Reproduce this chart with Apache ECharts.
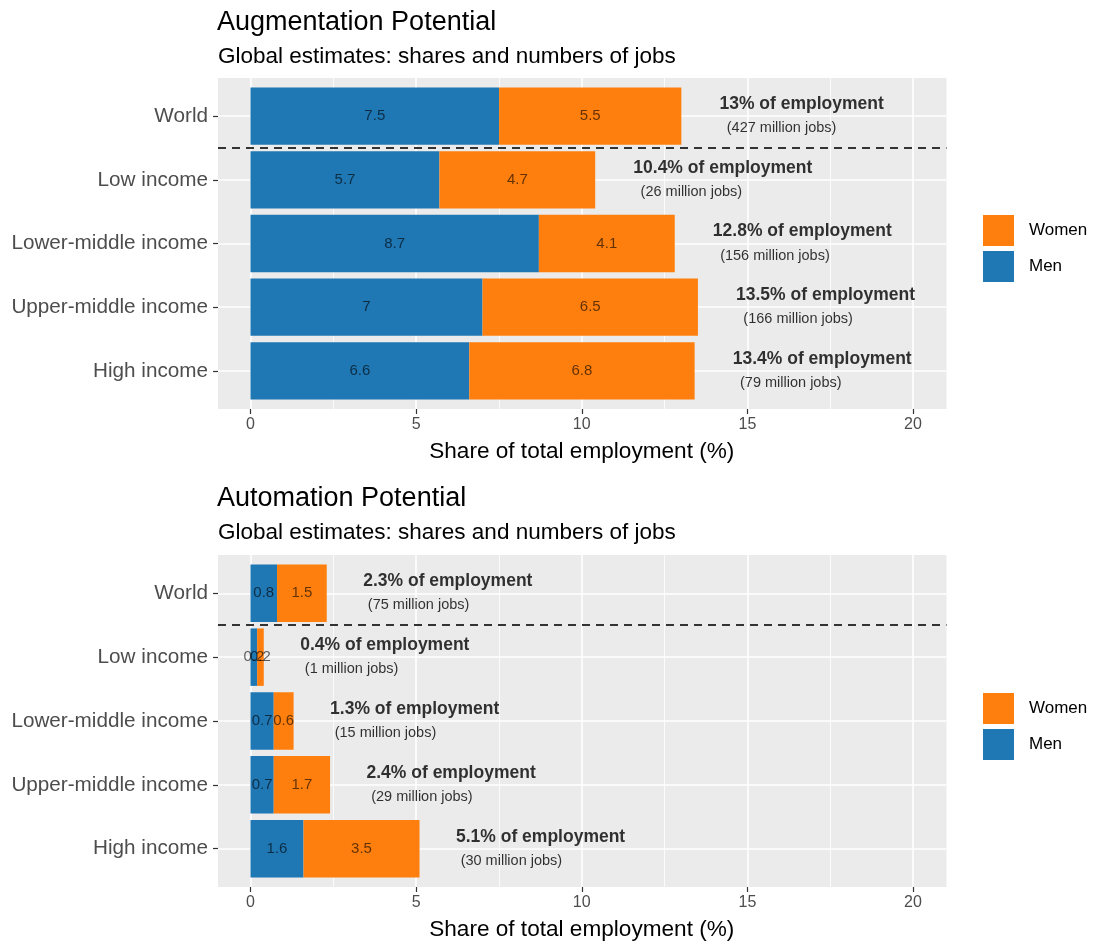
<!DOCTYPE html>
<html><head><meta charset="utf-8">
<script src="https://cdn.jsdelivr.net/npm/echarts@6/dist/echarts.min.js"></script>
<style>html,body{margin:0;padding:0;background:#fff}#c{width:1094px;height:945px}</style>
</head><body><div id="c"></div>
<script>
// ---- data ----
const categories = ['World', 'Low income', 'Lower-middle income', 'Upper-middle income', 'High income'];
const augMen   = [7.5, 5.7, 8.7, 7, 6.6];
const augWomen = [5.5, 4.7, 4.1, 6.5, 6.8];
const augTotal = [13, 10.4, 12.8, 13.5, 13.4];
const augJobs  = [427, 26, 156, 166, 79];
const autoMen   = [0.8, 0.2, 0.7, 0.7, 1.6];
const autoWomen = [1.5, 0.2, 0.6, 1.7, 3.5];
const autoTotal = [2.3, 0.4, 1.3, 2.4, 5.1];
const autoJobs  = [75, 1, 15, 29, 30];
const xTicks = [0, 5, 10, 15, 20];
const separatorAfter = 'World';
const titles = ['Augmentation Potential', 'Automation Potential'];
const subtitle = 'Global estimates: shares and numbers of jobs';
const xTitle = 'Share of total employment (%)';

// ---- style ----
const FONT = '"Liberation Sans", Arial, Helvetica, sans-serif';
const BLUE = '#1F77B4', ORANGE = '#FF7F0E';
const PANEL = '#EBEBEB', GRIDC = '#FFFFFF', AXTXT = '#4D4D4D', TICK = '#333333';
const XMIN = -0.981, XMAX = 21.0;

const chart = echarts.init(document.getElementById('c'), null, {renderer: 'canvas'});

const grid = [], xAxis = [], yAxis = [], series = [], title = [], legend = [];

function addPanel(p, layout, men, women, total, jobs, boldOff, subOff) {
  const g0 = grid.length;
  const band = layout.height / 5.2;
  // A: grey panel
  grid.push({left: 218, right: 147.5, top: layout.top, height: layout.height, show: true,
             backgroundColor: PANEL, borderWidth: 0, containLabel: false, outerBoundsMode: 'none'});
  // B: vertical grid lines + x axis
  grid.push({left: 250.5, right: 181, top: layout.top, height: layout.height, show: false,
             containLabel: false, outerBoundsMode: 'none'});
  // C: bars + categories
  grid.push({left: 218, right: 147.5, top: layout.top + 0.1 * band, height: band * 5, show: false,
             containLabel: false, outerBoundsMode: 'none'});
  const xA = xAxis.length;
  xAxis.push({gridIndex: g0, type: 'value', min: 0, max: 1, show: false});
  xAxis.push({gridIndex: g0 + 1, type: 'value', min: xTicks[0], max: xTicks[xTicks.length - 1],
    interval: xTicks[1] - xTicks[0],
    axisLine: {show: false, onZero: false},
    axisTick: {show: true, length: 5, lineStyle: {color: TICK, width: 1.2}},
    axisLabel: {show: true, color: AXTXT, fontSize: 16, fontFamily: FONT, margin: 8},
    splitLine: {show: true, lineStyle: {color: GRIDC, width: 1.6}},
    minorTick: {show: false, splitNumber: 2},
    minorSplitLine: {show: true, lineStyle: {color: GRIDC, width: 0.8}},
    name: xTitle, nameLocation: 'middle', nameGap: 31,
    nameTextStyle: {color: '#000', fontSize: 22.6, fontFamily: FONT}
  });
  xAxis.push({gridIndex: g0 + 2, type: 'value', min: XMIN, max: XMAX, show: false});
  const yA = yAxis.length;
  yAxis.push({gridIndex: g0, type: 'value', show: false});
  yAxis.push({gridIndex: g0 + 1, type: 'value', show: false});
  yAxis.push({gridIndex: g0 + 2, type: 'category', data: categories, inverse: true,
    axisLine: {show: false, onZero: false},
    axisTick: {show: true, alignWithLabel: true, length: 5, lineStyle: {color: TICK, width: 1.2}},
    axisLabel: {color: AXTXT, fontSize: 20.7, fontFamily: FONT, margin: 10},
    splitLine: {show: true, alignWithLabel: true, lineStyle: {color: GRIDC, width: 1.6}}
  });
  yAxis.push({gridIndex: g0 + 2, type: 'value', inverse: true, min: -0.5, max: categories.length - 0.5, show: false});

  const barLabel = {show: true, position: 'inside', color: 'rgba(0,0,0,0.62)', fontSize: 15, fontFamily: FONT};
  series.push({name: 'Men', type: 'bar', stack: 's' + p, xAxisIndex: xA + 2, yAxisIndex: yA + 2,
    data: men, barWidth: '90%', itemStyle: {color: BLUE}, label: barLabel, z: 3});
  series.push({name: 'Women', type: 'bar', stack: 's' + p, xAxisIndex: xA + 2, yAxisIndex: yA + 2,
    data: women, barWidth: '90%', itemStyle: {color: ORANGE}, label: barLabel, z: 3});
  series.push({type: 'scatter', xAxisIndex: xA + 2, yAxisIndex: yA + 2, symbolSize: 0, silent: true,
    data: total.map((t, i) => [t + boldOff, i]), z: 4,
    label: {show: true, position: 'right', distance: 0, align: 'left', verticalAlign: 'middle',
      offset: [0, -12], color: '#000', fontWeight: 'bold', fontSize: 17.5, fontFamily: FONT,
      formatter: (pr) => total[pr.dataIndex] + '% of employment'}});
  series.push({type: 'scatter', xAxisIndex: xA + 2, yAxisIndex: yA + 2, symbolSize: 0, silent: true,
    data: total.map((t, i) => [t + subOff, i]), z: 4,
    label: {show: true, position: 'right', distance: 0, align: 'left', verticalAlign: 'middle',
      offset: [0, 12], color: '#000', fontSize: 14.5, fontFamily: FONT,
      formatter: (pr) => '(' + jobs[pr.dataIndex] + ' million jobs)'}});
  const sepY = categories.indexOf(separatorAfter) + 0.5;
  series.push({type: 'line', xAxisIndex: xA + 2, yAxisIndex: yA + 3, data: [], silent: true, z: 5,
    markLine: {silent: true, symbol: 'none', label: {show: false},
      lineStyle: {color: '#333', width: 2, type: [8, 6]}, data: [{yAxis: sepY}]}});

  title.push({text: titles[p], left: 217, top: layout.titleTop, padding: 0,
    textStyle: {fontSize: 27, fontWeight: 'normal', color: '#000', fontFamily: FONT}});
  title.push({text: subtitle, left: 218, top: layout.titleTop + 36, padding: 0,
    textStyle: {fontSize: 22.5, fontWeight: 'normal', color: '#000', fontFamily: FONT}});
  legend.push({data: ['Women', 'Men'], orient: 'vertical', left: 983, top: layout.legendTop,
    padding: 0, itemWidth: 31, itemHeight: 31, itemGap: 5, icon: 'rect', selectedMode: false,
    textStyle: {fontSize: 17, color: '#000', fontFamily: FONT, padding: [0, 0, 0, 10]}});
}

addPanel(0, {top: 78, height: 331, titleTop: 9, legendTop: 215}, augMen, augWomen, augTotal, augJobs, 1.15, 1.37);
addPanel(1, {top: 555, height: 332, titleTop: 485.5, legendTop: 693}, autoMen, autoWomen, autoTotal, autoJobs, 1.1, 1.24);

chart.setOption({
  animation: false,
  textStyle: {fontFamily: FONT},
  title, legend, grid, xAxis, yAxis, series
});
</script></body></html>
